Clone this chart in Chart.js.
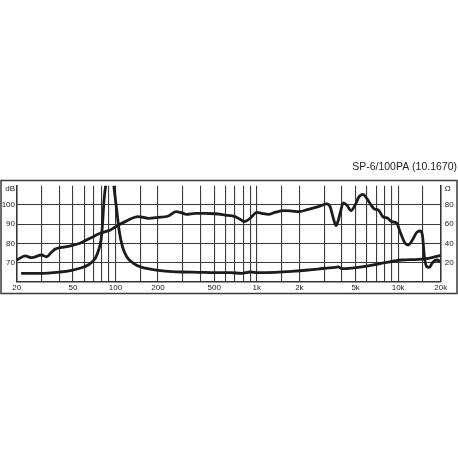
<!DOCTYPE html>
<html>
<head>
<meta charset="utf-8">
<script src="https://cdn.jsdelivr.net/npm/chart.js@4"></script>
<style>
  html, body { margin: 0; padding: 0; background: #fff; }
  canvas { display: block; }
</style>
</head>
<body>
<canvas id="chart" width="458" height="458"></canvas>
<script>
// frequency response (dB, left axis)
const splFreq = [20, 23, 25.5, 30, 32.6, 35.4, 37.3, 40.5, 48, 56, 66, 78, 92, 99, 117, 145, 171, 201, 237, 268,
    291, 319, 366, 430, 506, 596, 702, 761, 816, 896, 1000, 1084, 1207, 1346, 1542, 1767, 1990, 2316, 2726, 3126,
    3300, 3480, 3636, 3776, 3882, 4096, 4330, 4644, 4960, 5292, 5620, 5998, 6434, 6790, 7248, 7786, 8446, 9014, 9780, 10320,
    11200, 11814, 12610, 13546, 14294, 14840, 15332, 15944, 16636, 17472, 18770, 20000];
const splDb = [71.3, 73.4, 72.5, 73.9, 73, 75.5, 76.9, 77.7, 78.6, 80, 82.6, 85.2, 86.9, 88.4, 91.3, 93.9, 93, 93.5, 94.2, 96.5,
    96, 95.1, 95.6, 95.6, 95.4, 94.7, 93.9, 92.5, 91.3, 93, 96.1, 95.6, 95.1, 96.1, 97, 96.8, 96.5, 97.7, 99.1, 100.5,
    99.1, 93, 89.2, 92.1, 95.6, 101.1, 99.9, 97, 99.9, 104.3, 105.5, 103.4, 99.9, 97.9, 97.3, 93.9, 93, 91.3, 90.4, 86,
    80, 79.1, 81.7, 85.7, 86.4, 84.3, 73, 67.8, 67.5, 69.9, 71.3, 70.4];

// impedance (ohm, right axis)
const impFreq = [21.5, 29, 40.5, 48, 56, 64, 72, 76, 79, 81, 83, 86, 91, 96.5, 99, 102, 106, 112, 120, 134,
    153, 180, 224, 294, 386, 506, 647, 782, 896, 1025, 1346, 1767, 2316, 3040, 3600, 3776, 3992, 4698, 6154, 8082, 10610,
    13906, 16370, 20000];
const impOhm = [8.7, 8.7, 10.1, 11.5, 14, 17.4, 24.4, 33, 43.4, 60.8, 85.1, 105, 140, 105, 90.3, 74.7, 53.9, 36.5, 26, 19.2,
    15, 12.9, 11.1, 10.1, 9.8, 9.4, 9.4, 8.7, 10.1, 9.4, 9.8, 10.8, 12.2, 14, 15, 15.4, 13.6, 14.2, 16.4, 19.8, 22.6,
    23.3, 24.4, 27.5];

// grid / tick positions
const gridFreq = [20, 30, 40, 50, 60, 70, 80, 90, 100, 150, 200, 300, 400, 500, 600, 700, 800, 900,
    1000, 1500, 2000, 3000, 4000, 5000, 6000, 7000, 8000, 9000, 10000, 15000, 20000];
const freqLabels = { 20: '20', 50: '50', 100: '100', 200: '200', 500: '500', 1000: '1k', 2000: '2k', 5000: '5k', 10000: '10k', 20000: '20k' };
const dbGrid = [60, 65, 70, 75, 80, 85, 90, 95, 100, 105, 110];
const dbLabels = { 70: '70', 80: '80', 90: '90', 100: '100' };
const ohmLabels = { 20: '20', 40: '40', 60: '60', 80: '80' };
const dbUnitAt = 108.3;   // unit labels sit a little under the top line
const ohmUnitAt = 96.6;

const ink = '#1c1c1c';
const gridCol = '#3a3a3a';
const tickFont = { family: "'Liberation Sans', Arial, sans-serif", size: 8 };

// outer frame around the whole graph
const framePlugin = {
    id: 'frame',
    afterDraw(chart) {
        const c = chart.ctx;
        c.save();
        c.strokeStyle = '#3a3a3a';
        c.lineWidth = 1.5;
        c.strokeRect(1, 180.5, 456, 113);
        c.restore();
    }
};

const ctx = document.getElementById('chart').getContext('2d');
new Chart(ctx, {
    type: 'line',
    data: {
        datasets: [{
            label: 'SPL',
            data: splFreq.map((f, i) => ({ x: f, y: splDb[i] })),
            yAxisID: 'y',
            borderColor: ink,
            borderWidth: 2.8,
            pointRadius: 0,
            cubicInterpolationMode: 'monotone',
            clip: 0
        }, {
            label: 'Impedance',
            data: impFreq.map((f, i) => ({ x: f, y: impOhm[i] })),
            yAxisID: 'y1',
            borderColor: ink,
            borderWidth: 2.8,
            pointRadius: 0,
            cubicInterpolationMode: 'monotone',
            clip: 0
        }]
    },
    options: {
        responsive: false,
        animation: false,
        layout: { padding: { top: 160.7, bottom: 156.3, left: 0, right: 1 } },
        plugins: {
            legend: { display: false },
            tooltip: { enabled: false },
            title: {
                display: true,
                text: 'SP-6/100PA (10.1670)',
                align: 'end',
                color: '#222',
                font: { family: "'Liberation Sans', Arial, sans-serif", size: 10.5, weight: 'normal' },
                padding: { top: 0, bottom: 12.4 }
            }
        },
        scales: {
            x: {
                type: 'logarithmic',
                min: 20,
                max: 20000,
                afterBuildTicks: (scale) => { scale.ticks = gridFreq.map(v => ({ value: v })); },
                afterFit: (scale) => { scale.height = 20; },
                ticks: {
                    autoSkip: false,
                    maxRotation: 0,
                    padding: 1,
                    color: '#222',
                    font: tickFont,
                    callback: (v) => freqLabels[v] || ''
                },
                grid: { color: gridCol, lineWidth: 1.1, drawTicks: false },
                border: { color: '#333', width: 1.5 }
            },
            y: {
                position: 'left',
                min: 60,
                max: 110,
                afterBuildTicks: (scale) => {
                    scale.ticks = dbGrid.map(v => ({ value: v }));
                    scale.ticks.splice(dbGrid.length - 1, 0, { value: dbUnitAt });
                },
                afterFit: (scale) => { scale.width = 16.7; },
                ticks: {
                    padding: 1.7,
                    color: '#222',
                    font: tickFont,
                    callback: (v) => v === dbUnitAt ? 'dB' : (dbLabels[v] || '')
                },
                grid: {
                    drawTicks: false,
                    lineWidth: 1.1,
                    color: (c) => c.tick && c.tick.value === dbUnitAt ? 'rgba(0,0,0,0)' : gridCol
                },
                border: { color: '#333', width: 1.5 }
            },
            y1: {
                position: 'right',
                min: 0,
                max: 100,
                afterBuildTicks: (scale) => {
                    scale.ticks = [20, 40, 60, 80, ohmUnitAt].map(v => ({ value: v }));
                },
                afterFit: (scale) => { scale.width = 16.3; },
                ticks: {
                    padding: 4,
                    color: '#222',
                    font: tickFont,
                    callback: (v) => v === ohmUnitAt ? 'Ω' : (ohmLabels[v] || '')
                },
                grid: { display: false, drawTicks: false },
                border: { color: '#333', width: 1.5 }
            }
        }
    },
    plugins: [framePlugin]
});
</script>
</body>
</html>
